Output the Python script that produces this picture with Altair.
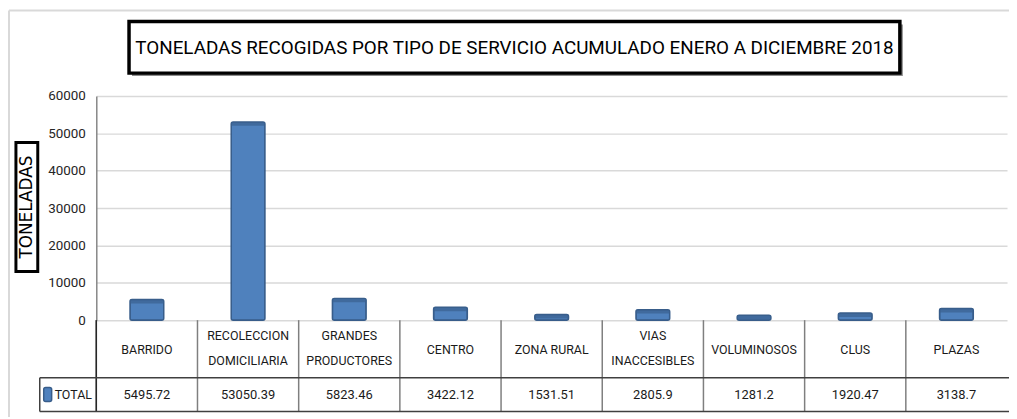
import altair as alt
import pandas as pd

categories = ["BARRIDO", "RECOLECCION DOMICILIARIA", "GRANDES PRODUCTORES", "CENTRO",
              "ZONA RURAL", "VIAS INACCESIBLES", "VOLUMINOSOS", "CLUS", "PLAZAS"]
header_labels = ["BARRIDO", "RECOLECCION\nDOMICILIARIA", "GRANDES\nPRODUCTORES", "CENTRO",
                 "ZONA RURAL", "VIAS\nINACCESIBLES", "VOLUMINOSOS", "CLUS", "PLAZAS"]
totals = [5495.72, 53050.39, 5823.46, 3422.12, 1531.51, 2805.9, 1281.2, 1920.47, 3138.7]
y_ticks = [0, 10000, 20000, 30000, 40000, 50000, 60000]
series_name = "TOTAL"
title_text = "TONELADAS RECOGIDAS POR TIPO DE SERVICIO ACUMULADO ENERO A DICIEMBRE 2018"
y_title = "TONELADAS"

df = pd.DataFrame({
    "cat": categories,
    "header": header_labels,
    "total": totals,
    "label": [str(v) for v in totals],
})

FONT = "Roboto"
W, H = 918, 226
BLUE, DARK = "#4f81bd", "#385d8a"
TXT = "#1a1a1a"

xscale = alt.Scale(domain=categories, paddingInner=0, paddingOuter=0)
yscale = alt.Scale(domain=[0, 60000], nice=False)
xaxis = alt.Axis(labels=False, ticks=False, title="", grid=False,
                 domainColor="black", domainWidth=1.5)
yaxis = alt.Axis(values=y_ticks, format="d", title="", ticks=False, labelPadding=11,
                 labelOverlap=False, labelFont=FONT, labelFontSize=13.5,
                 labelColor="#262626",
                 domainColor="#868686", domainWidth=1.5,
                 gridColor="#d9d9d9", gridWidth=1.5)
one = alt.Data(values=[{}])
base = alt.Chart(df)

bars = base.mark_bar(size=34, color=BLUE, stroke=DARK, strokeWidth=1.5, cornerRadius=2).encode(
    x=alt.X("cat:N", sort=categories, scale=xscale, axis=xaxis),
    y=alt.Y("total:Q", scale=yscale, axis=yaxis),
)
caps = base.mark_tick(size=34, thickness=4, color="#3b6190", yOffset=2).encode(
    x=alt.X("cat:N", sort=categories, scale=xscale, axis=xaxis),
    y=alt.Y("total:Q", scale=yscale, axis=yaxis),
)

# table
vlines = base.mark_rule(color="#7f7f7f", strokeWidth=1.5).encode(
    x=alt.X("cat:N", sort=categories, scale=xscale, axis=None, bandPosition=0),
    y=alt.value(H), y2=alt.value(H + 92),
)
hlines = alt.Chart(alt.Data(values=[{"yy": H + 58}, {"yy": H + 92}])).mark_rule(
    color="#404040", strokeWidth=1.5).encode(
    x=alt.value(-57), x2=alt.value(W + 10), y=alt.Y("yy:Q", scale=None),
)
left_v = alt.Chart(one).mark_rule(color="#404040", strokeWidth=1.5).encode(
    x=alt.value(-57), y=alt.value(H + 58), y2=alt.value(H + 92))
first_v = alt.Chart(one).mark_rule(color="#262626", strokeWidth=1.5).encode(
    x=alt.value(0), y=alt.value(H), y2=alt.value(H + 92))

header_one = base.transform_filter("indexof(datum.header, '\\n') < 0").mark_text(
    font=FONT, fontSize=12.5, color=TXT, baseline="middle").encode(
    x=alt.X("cat:N", sort=categories, scale=xscale, axis=None),
    y=alt.value(H + 30), text="header:N",
)
header_two = base.transform_filter("indexof(datum.header, '\\n') >= 0").mark_text(
    font=FONT, fontSize=12.5, lineBreak="\n", lineHeight=25, color=TXT, baseline="middle").encode(
    x=alt.X("cat:N", sort=categories, scale=xscale, axis=None),
    y=alt.value(H + 16), text="header:N",
)
value_txt = base.mark_text(font=FONT, fontSize=13, color=TXT, baseline="middle").encode(
    x=alt.X("cat:N", sort=categories, scale=xscale, axis=None),
    y=alt.value(H + 75), text="label:N",
)
legend_sq = alt.Chart(one).mark_rect(fill=BLUE, stroke=DARK, strokeWidth=1.5, cornerRadius=2).encode(
    x=alt.value(-53), x2=alt.value(-45), y=alt.value(H + 68), y2=alt.value(H + 82))
legend_txt = alt.Chart(one).mark_text(text=series_name, font=FONT, fontSize=12.5, align="left",
                                      baseline="middle", color=TXT).encode(
    x=alt.value(-42), y=alt.value(H + 75))

# title box
title_shadow = alt.Chart(one).mark_rect(fill="#8c8c8c").encode(
    x=alt.value(36), x2=alt.value(813), y=alt.value(-72), y2=alt.value(-20))
title_box = alt.Chart(one).mark_rect(fill="white", stroke="black", strokeWidth=3.5).encode(
    x=alt.value(33), x2=alt.value(810), y=alt.value(-75), y2=alt.value(-23))
title_txt = alt.Chart(one).mark_text(text=title_text, font=FONT, fontSize=19,
                                     baseline="middle", color="black").encode(
    x=alt.value(421.5), y=alt.value(-48))

# y title box
ytitle_box = alt.Chart(one).mark_rect(fill="white", stroke="black", strokeWidth=3).encode(
    x=alt.value(-81), x2=alt.value(-59), y=alt.value(47), y2=alt.value(177))
ytitle_txt = alt.Chart(one).mark_text(text=y_title, font="DejaVu Sans", fontSize=17, angle=270,
                                      baseline="middle", color="black").encode(
    x=alt.value(-70), y=alt.value(112))

# outer frame
frame_left = alt.Chart(one).mark_rule(color="#d9d9d9", strokeWidth=2).encode(
    x=alt.value(-88), y=alt.value(-86), y2=alt.value(340))
frame_top = alt.Chart(one).mark_rule(color="#d9d9d9", strokeWidth=2).encode(
    x=alt.value(-88), x2=alt.value(W + 20), y=alt.value(-86))

chart = alt.layer(
    frame_left, frame_top, bars, caps, vlines, first_v, hlines, left_v,
    header_one, header_two, value_txt, legend_sq, legend_txt,
    title_shadow, title_box, title_txt, ytitle_box, ytitle_txt,
).properties(
    width=W, height=H,
    autosize=alt.AutoSizeParams(type="none"),
    padding={"left": 89, "top": 87, "right": 2, "bottom": 96},
    background="white",
).configure_view(strokeWidth=0)

chart.save("out.html", embed_options={"renderer": "svg", "actions": False})
